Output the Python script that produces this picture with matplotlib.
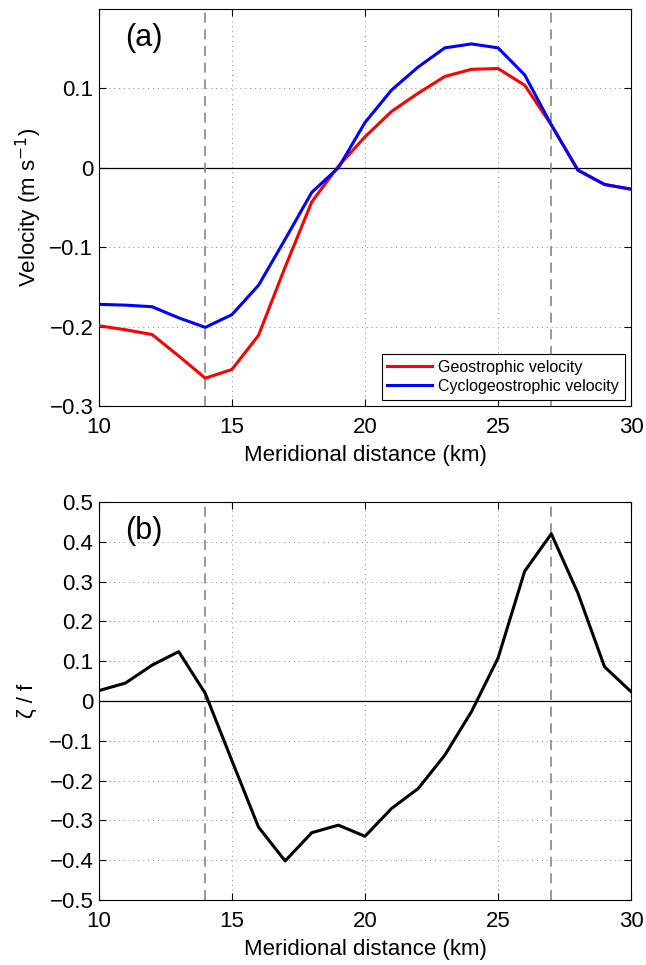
import matplotlib
matplotlib.use('Agg')
import matplotlib.pyplot as plt

plt.rcParams['font.family'] = ['Liberation Sans', 'DejaVu Sans']
plt.rcParams['font.size'] = 16

# Meridional distance (km)
dist = list(range(10, 31))

# Velocity (m/s)
v_geo = [-0.199, -0.204, -0.210, -0.237, -0.265, -0.254, -0.211, -0.125, -0.043, 0.002,
         0.039, 0.071, 0.094, 0.115, 0.124, 0.125, 0.104, 0.054, -0.003, -0.021, -0.027]
v_cyc = [-0.172, -0.173, -0.175, -0.189, -0.201, -0.185, -0.148, -0.090, -0.031, 0.0,
         0.057, 0.098, 0.127, 0.151, 0.156, 0.151, 0.117, 0.054, -0.003, -0.021, -0.027]

# Relative vorticity / f
zeta_f = [0.026, 0.045, 0.090, 0.124, 0.019, -0.150, -0.317, -0.402, -0.331, -0.312,
          -0.340, -0.270, -0.220, -0.136, -0.027, 0.108, 0.326, 0.420, 0.271, 0.086, 0.023]

edges = [14, 27]

fig = plt.figure(figsize=(6.46, 9.65), dpi=100)
ax1 = fig.add_axes([0.153, 0.5793, 0.824, 0.4114])
ax2 = fig.add_axes([0.153, 0.0674, 0.824, 0.4124])


def style(ax, yticks):
    ax.set_xlim(10, 30)
    ax.set_xticks([10, 15, 20, 25, 30])
    ax.set_yticks(yticks)
    ax.set_yticklabels([('%g' % t).replace('-', '\u2212') for t in yticks])
    ax.grid(True, linestyle=(0, (1, 4)), color='#888888', linewidth=0.7)
    ax.tick_params(direction='in', top=True, right=True, length=5, width=0.8)
    ax.tick_params(axis='x', pad=8)
    ax.tick_params(axis='y', pad=4)
    ax.axhline(0, color='black', linewidth=0.9, zorder=2)
    for e in edges:
        ax.axvline(e, color='#888888', linestyle=(0, (6, 4)), linewidth=1.2, zorder=2)
    ax.set_xlabel('Meridional distance (km)', labelpad=5)
    for s in ax.spines.values():
        s.set_linewidth(0.8)


# (a) velocities
ax1.plot(dist, v_geo, color='red', linewidth=2.2, label='Geostrophic velocity', zorder=3)
ax1.plot(dist, v_cyc, color='blue', linewidth=2.2, label='Cyclogeostrophic velocity', zorder=3)
ax1.set_ylim(-0.3, 0.2)
style(ax1, [-0.3, -0.2, -0.1, 0, 0.1])
ax1.set_ylabel('Velocity (m s$^{-1}$)', labelpad=4)
ax1.text(0.05, 0.965, '(a)', transform=ax1.transAxes, fontsize=22, va='top')
leg = ax1.legend(loc='lower right', fontsize=11.5, fancybox=False, edgecolor='black',
                 handlelength=2.8, handletextpad=0.4, borderpad=0.35, labelspacing=0.25,
                 borderaxespad=0.4, framealpha=1)
leg.get_frame().set_linewidth(0.8)

# (b) vorticity
ax2.plot(dist, zeta_f, color='black', linewidth=2.2, zorder=3)
ax2.set_ylim(-0.5, 0.5)
style(ax2, [-0.5, -0.4, -0.3, -0.2, -0.1, 0, 0.1, 0.2, 0.3, 0.4, 0.5])
ax2.set_ylabel('ζ / f', labelpad=8)
ax2.text(0.05, 0.965, '(b)', transform=ax2.transAxes, fontsize=22, va='top')

fig.savefig('out.png', dpi=100)
